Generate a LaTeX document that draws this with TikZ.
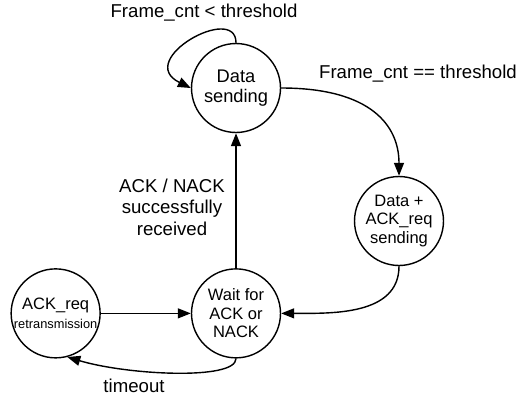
\documentclass[tikz,border=0pt]{standalone}
\usepackage{fontspec}
\setmainfont{Liberation Sans}
\usetikzlibrary{positioning,arrows.meta}
\tikzset{
  statenode/.style={draw=black, circle, line width=0.8pt, minimum size=1.78cm, inner sep=0pt, align=center, font=\fontsize{9.4}{10.6}\selectfont},
  labelnode/.style={align=center, inner sep=0pt, font=\fontsize{10.6}{12.2}\selectfont},
  transarrow/.style={-{Triangle[length=2.6mm,width=2mm]}, line width=0.8pt, draw=black}
}

\begin{document}
\begin{tikzpicture}[x=0.02cm, y=0.02cm, node distance=2.7cm and 1.8cm]
  \useasboundingbox (0,0) rectangle (520,-400);
  \node[statenode, font=\fontsize{10.4}{11.4}\selectfont] (data) at (236,-88) {Data\\sending};
  \node[statenode] (dataack) at (399,-221) {Data +\\ACK\_req\\sending};
  \node[statenode, below=of data] (wait) {Wait for\\ACK or\\NACK};
  \node[statenode, left=of wait] (retx) {ACK\_req\\{\fontsize{7.3}{8}\selectfont retransmission}};
  \draw[transarrow] (data.north) .. controls +(0,40) and +(-57,28) .. (data.west);
  \draw[transarrow] (data.east) .. controls +(90,0) and +(0,50) .. (dataack.north);
  \draw[transarrow] (dataack.south) to[out=270, in=0] (wait.east);
  \draw[transarrow] (wait) -- (data);
  \draw[transarrow] (retx) -- (wait);
  \draw[transarrow] (wait.south) .. controls +(0,-22) and +(60,-18) .. (retx.-75);
  \node[labelnode] (lessthr) at (204,-13) {Frame\_cnt < threshold};
  \node[labelnode] (eqthr) at (418,-74) {Frame\_cnt == threshold};
  \node[labelnode] (acklbl) at (172,-207) {ACK / NACK\\successfully\\received};
  \node[labelnode] (tolbl) at (134,-386) {timeout};
\end{tikzpicture}
\end{document}
